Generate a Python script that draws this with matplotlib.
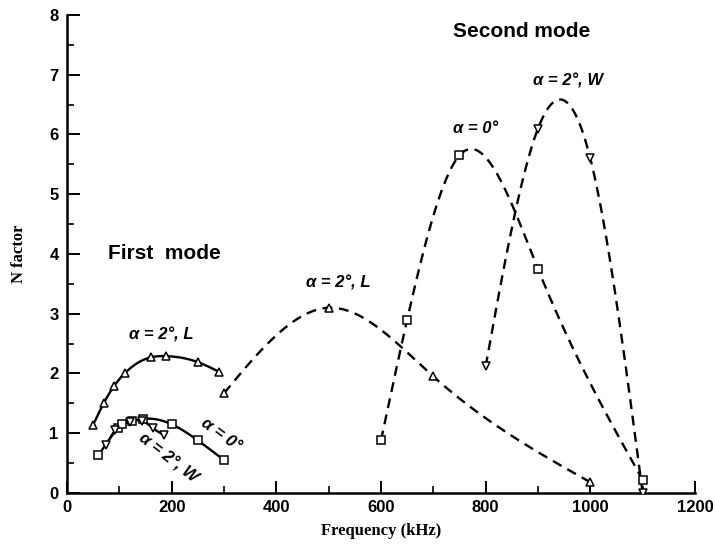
import numpy as np
import matplotlib
matplotlib.use("Agg")
import matplotlib.pyplot as plt
from matplotlib.ticker import MultipleLocator

# ---- data ----
# First mode (solid curves)
freq_L1 = [50, 70, 90, 110, 160, 190, 250, 290]
n_L1 = [1.14, 1.50, 1.79, 2.00, 2.27, 2.29, 2.19, 2.03]

freq_A0_1 = [60, 97, 105, 125, 145, 200, 250, 300]
n_A0_1 = [0.63, 1.08, 1.15, 1.21, 1.24, 1.15, 0.88, 0.55]

freq_W1 = [75, 92, 120, 143, 165, 185]
n_W1 = [0.80, 1.05, 1.19, 1.21, 1.08, 0.97]

# Second mode (dashed curves)
freq_L2 = [300, 500, 700, 1000]
n_L2 = [1.67, 3.10, 1.95, 0.18]

freq_A0_2 = [600, 650, 750, 900, 1100]
n_A0_2 = [0.88, 2.90, 5.65, 3.75, 0.22]

freq_W2 = [800, 900, 1000, 1100]
n_W2 = [2.12, 6.10, 5.60, 0.0]

x_ticks = [0, 200, 400, 600, 800, 1000, 1200]
y_ticks = [0, 1, 2, 3, 4, 5, 6, 7, 8]


def natural_spline(x, y, n=300):
    x = np.asarray(x, float)
    y = np.asarray(y, float)
    m = len(x)
    h = np.diff(x)
    A = np.zeros((m, m))
    b = np.zeros(m)
    A[0, 0] = 1
    A[-1, -1] = 1
    for i in range(1, m - 1):
        A[i, i - 1] = h[i - 1]
        A[i, i] = 2 * (h[i - 1] + h[i])
        A[i, i + 1] = h[i]
        b[i] = 3 * ((y[i + 1] - y[i]) / h[i] - (y[i] - y[i - 1]) / h[i - 1])
    c = np.linalg.solve(A, b)
    xs = np.linspace(x[0], x[-1], n)
    ys = np.empty_like(xs)
    for k, xv in enumerate(xs):
        i = min(np.searchsorted(x, xv, side="right") - 1, m - 2)
        i = max(i, 0)
        bi = (y[i + 1] - y[i]) / h[i] - h[i] * (2 * c[i] + c[i + 1]) / 3
        di = (c[i + 1] - c[i]) / (3 * h[i])
        t = xv - x[i]
        ys[k] = y[i] + bi * t + c[i] * t ** 2 + di * t ** 3
    return xs, ys


fig = plt.figure(figsize=(7.15, 5.51), dpi=100)
ax = fig.add_axes([0.0937, 0.1053, 0.8783, 0.8675])

mk = dict(mfc="white", mec="black", mew=1.1, ms=6, ls="none", zorder=3)

# first mode: solid
for xs_, ys_, m in [(freq_L1, n_L1, "^"), (freq_A0_1, n_A0_1, "s"), (freq_W1, n_W1, "v")]:
    sx, sy = natural_spline(xs_, ys_)
    ax.plot(sx, sy, color="black", lw=1.7, zorder=2)
    ax.plot(xs_, ys_, marker=m, **mk)

# second mode: dashed
for xs_, ys_, m in [(freq_L2, n_L2, "^"), (freq_A0_2, n_A0_2, "s"), (freq_W2, n_W2, "v")]:
    sx, sy = natural_spline(xs_, ys_)
    ax.plot(sx, sy, color="black", lw=1.7, ls=(0, (4.2, 2.8)), zorder=2)
    ax.plot(xs_, ys_, marker=m, **dict(mk, ms=5.5))

ax.set_xlim(0, 1200)
ax.set_ylim(0, 8)
ax.set_xticks(x_ticks)
ax.set_yticks(y_ticks)
ax.xaxis.set_minor_locator(MultipleLocator(100))
ax.yaxis.set_minor_locator(MultipleLocator(0.5))
for s in ["top", "right"]:
    ax.spines[s].set_visible(False)
for s in ["left", "bottom"]:
    ax.spines[s].set_linewidth(1.8)
ax.tick_params(which="major", direction="in", length=9, width=1.4, pad=5)
ax.tick_params(which="minor", direction="in", length=5, width=1.2)
ax.tick_params(axis="y", which="major", pad=6)
tfont = dict(family="Liberation Sans", weight="bold", size=12)
ax.set_xticklabels([str(v) for v in x_ticks], **tfont)
ax.set_yticklabels([str(v) for v in y_ticks], **tfont)

ax.set_xlabel("Frequency (kHz)", family="Liberation Serif", weight="bold", size=12, labelpad=6)
ax.set_ylabel("N factor", family="Liberation Serif", weight="bold", size=12, labelpad=16)

big = dict(family="Liberation Sans", weight="bold", size=15, ha="center", va="center")
ax.text(869, 7.72, "Second mode", **big)
ax.text(187, 4.0, "First  mode", **big)

lab = dict(family="Liberation Sans", weight="bold", style="italic", size=12, ha="center", va="center")
ax.text(180, 2.64, "α = 2°, L", **lab)
ax.text(518, 3.51, "α = 2°, L", **lab)
ax.text(780, 6.10, "α = 0°", **lab)
ax.text(958, 6.90, "α = 2°, W", **lab)
ax.text(295, 0.97, "α = 0°", rotation=-36, rotation_mode="anchor", **lab)
ax.text(193, 0.59, "α = 2°, W", rotation=-38, rotation_mode="anchor", **lab)

fig.savefig("out.png", dpi=100)
